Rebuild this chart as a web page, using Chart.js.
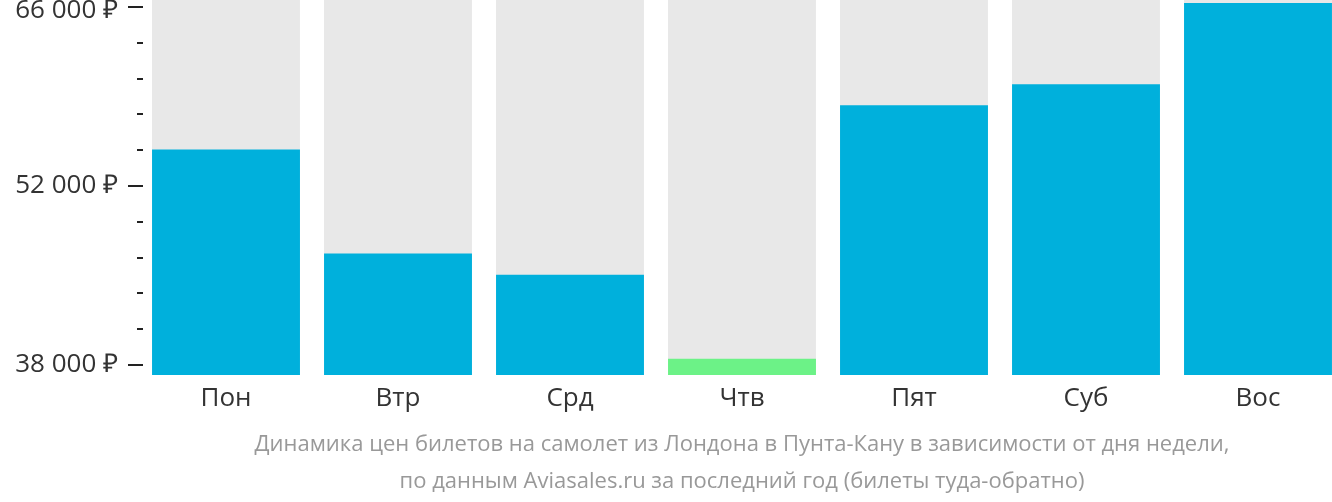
<!DOCTYPE html>
<html><head><meta charset="utf-8">
<script src="https://cdn.jsdelivr.net/npm/chart.js@4/dist/chart.umd.min.js"></script>
<style>html,body{margin:0;padding:0;background:#fff;overflow:hidden;width:1332px;height:502px}
#wrap{width:1344px;height:502px;position:relative}</style>
</head><body><div id="wrap"><canvas id="c"></canvas></div>
<script>
const categories = ["Пон","Втр","Срд","Чтв","Пят","Суб","Вос"];
const prices = [54860, 46710, 45060, 38470, 58310, 59960, 66310];
const barColors = ["#00b0dc","#00b0dc","#00b0dc","#6cf287","#00b0dc","#00b0dc","#00b0dc"];
const yMin = 37216, yMax = 66550;
const tickValues = [38000,40800,43600,46400,49200,52000,54800,57600,60400,63200,66000];
const labeledTicks = [38000,52000,66000];
const titleLines = ["Динамика цен билетов на самолет из Лондона в Пунта-Кану в зависимости от дня недели,","по данным Aviasales.ru за последний год (билеты туда-обратно)"];

const fmt = v => v.toLocaleString('ru-RU').replace(/\s/g,' ') + ' ₽';

const tickMarks = {
  id:'tickMarks',
  afterDraw(chart){
    const s = chart.scales.y, ctx = chart.ctx;
    ctx.save(); ctx.strokeStyle='#222'; ctx.lineWidth=2;
    s.ticks.forEach(t=>{
      const y = Math.round(s.getPixelForValue(t.value));
      const major = labeledTicks.includes(t.value);
      ctx.beginPath(); ctx.moveTo(major?128:137, y); ctx.lineTo(143, y); ctx.stroke();
    });
    ctx.restore();
  }
};

new Chart(document.getElementById('c'), {
  type:'bar',
  data:{labels:categories, datasets:[
    {data:prices, backgroundColor:barColors, order:0, grouped:false, barPercentage:0.86, categoryPercentage:1},
    {data:categories.map(()=>yMax), backgroundColor:'#e8e8e8', order:1, grouped:false, barPercentage:0.86, categoryPercentage:1}
  ]},
  options:{
    responsive:true, maintainAspectRatio:false, animation:false,
    layout:{padding:{top:0,left:0,right:0,bottom:2}},
    plugins:{legend:{display:false}, tooltip:{enabled:false},
      title:{display:true, position:'bottom', fullSize:false, text:titleLines, color:'#999',
        font:{family:'Open Sans', size:22, weight:'normal', lineHeight:1.68}, padding:{top:4,bottom:0}}},
    scales:{
      x:{grid:{display:false, drawTicks:false}, border:{display:false},
        ticks:{color:'#333', font:{family:'Open Sans', size:26, lineHeight:1.2}, padding:8}},
      y:{min:yMin, max:yMax, grid:{display:false, drawTicks:false}, border:{display:false},
        afterBuildTicks(s){ s.ticks = tickValues.map(v=>({value:v})); },
        afterFit(s){ s.width = 140; s.paddingTop = 0; s.paddingBottom = 0; },
        ticks:{color:'#333', padding:22, autoSkip:false,
          font(c){ const top = c.tick && c.tick.value === tickValues[tickValues.length-1];
            return {family:'Open Sans', size:26, lineHeight: top ? 0.31 : 1.2}; },
          callback(v){
            if (!labeledTicks.includes(v)) return '';
            return v === tickValues[tickValues.length-1] ? ['', fmt(v)] : fmt(v);
          }}}
    }
  },
  plugins:[tickMarks]
});
</script></body></html>
